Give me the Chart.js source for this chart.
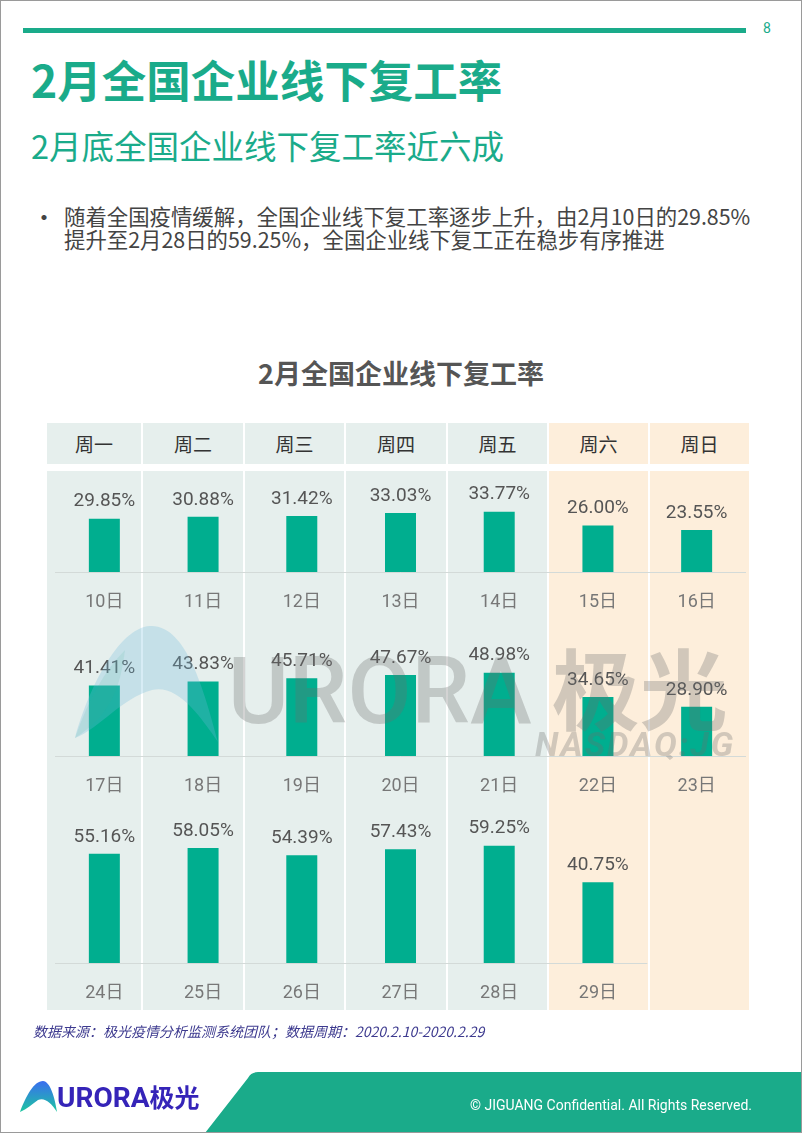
<!DOCTYPE html>
<html>
<head>
<meta charset="utf-8">
<script src="https://cdn.jsdelivr.net/npm/chart.js@4.4.0/dist/chart.umd.min.js"></script>
<style>
  body { margin: 0; background: #fff; }
  #page { position: relative; width: 802px; height: 1133px; overflow: hidden; background: #fff;
          font-family: "Noto Sans CJK SC", "Noto Sans", sans-serif; }
  .abs { position: absolute; white-space: nowrap; }
  .cell { position: absolute; }
  canvas { position: absolute; }
</style>
</head>
<body>
<div id="page">
  <div class="abs" style="left:23px;top:28px;width:723px;height:5px;background:#1aab8a;"></div>
  <div class="abs" style="left:763px;top:20px;font:14px Roboto;color:#1aab8a;">8</div>

  <div class="abs" style="left:31px;top:52px;font-size:44.5px;font-weight:bold;color:#1aab8a;line-height:54px;">2月全国企业线下复工率</div>
  <div class="abs" style="left:31px;top:125px;font-size:32.5px;color:#1aab8a;line-height:40px;">2月底全国企业线下复工率近六成</div>

  <div class="abs" style="left:32px;top:203px;font-size:24px;color:#444;line-height:26px;">•</div>
  <div class="abs" style="left:64px;top:204px;font-size:21.4px;color:#444;line-height:23px;">随着全国疫情缓解，全国企业线下复工率逐步上升，由2月10日的29.85%<br>提升至2月28日的59.25%，全国企业线下复工正在稳步有序推进</div>

  <div class="abs" style="left:0;width:802px;top:356px;text-align:center;font-size:27px;font-weight:bold;color:#555;line-height:34px;">2月全国企业线下复工率</div>

  <div id="grid"></div>

  <canvas id="week1" width="707" height="149" style="left:47px;top:471px;"></canvas>
  <canvas id="week2" width="707" height="184" style="left:47px;top:620px;"></canvas>
  <canvas id="week3" width="707" height="205" style="left:47px;top:806px;"></canvas>

  <!-- watermark -->
  <svg class="abs" style="left:0;top:0;" width="802" height="1133">
    <path d="M75,738 C88,690 118,628 150,626 C186,624 204,690 218,742 C200,716 178,684 152,690 C122,698 100,728 75,738 Z" fill="rgba(110,185,220,0.28)"/>
    <path d="M75,738 C88,700 105,670 125,650 C120,690 110,715 75,738 Z" fill="rgba(60,170,150,0.12)"/>
  </svg>
  <div class="abs" style="left:228px;top:630px;font:500 93px Roboto;color:rgba(110,110,110,0.30);line-height:110px;">URORA<span style="font-family:'Noto Sans CJK SC';font-weight:bold;font-size:88px;"> 极光</span></div>
  <div class="abs" style="left:535px;top:724px;font:italic bold 34px Roboto;color:rgba(110,110,110,0.30);letter-spacing:2px;line-height:40px;">NASDAQ:JG</div>

  <div class="abs" style="left:33px;top:1020px;font-size:14px;font-style:italic;color:#3d3a8f;line-height:22px;">数据来源：极光疫情分析监测系统团队；数据周期：2020.2.10-2020.2.29</div>

  <!-- footer -->
  <svg class="abs" style="left:0;top:0;" width="802" height="1133">
    <defs>
      <linearGradient id="lg" x1="0" y1="0" x2="0" y2="1">
        <stop offset="0" stop-color="#3a6df0"/>
        <stop offset="1" stop-color="#1cc6a0"/>
      </linearGradient>
    </defs>
    <path d="M258,1072 L802,1072 L802,1133 L205,1133 L248,1078 Q251,1072 258,1072 Z" fill="#1aab8a"/>
    <path d="M20,1112 C26,1096 34,1081 43,1081 C50,1081 55,1098 57,1112 C51,1102 44,1097 38,1100 C32,1104 27,1109 20,1112 Z" fill="url(#lg)"/>
  </svg>
  <div class="abs" style="left:57px;top:1080px;font:bold 28px Roboto;color:#3524b8;line-height:32px;">URORA<span style="font-family:'Noto Sans CJK SC';font-size:25px;">极光</span></div>
  <div class="abs" style="left:470px;top:1095px;font:14px Roboto;color:#fff;line-height:20px;">© JIGUANG Confidential. All Rights Reserved.</div>

  <div class="abs" style="left:0;top:0;width:800px;height:1131px;border:1px solid #9a9a9a;"></div>
</div>

<script>
const dayNames = ['周一', '周二', '周三', '周四', '周五', '周六', '周日'];
const week1Days = ['10日', '11日', '12日', '13日', '14日', '15日', '16日'];
const week1Rates = [29.85, 30.88, 31.42, 33.03, 33.77, 26.00, 23.55];
const week2Days = ['17日', '18日', '19日', '20日', '21日', '22日', '23日'];
const week2Rates = [41.41, 43.83, 45.71, 47.67, 48.98, 34.65, 28.90];
const week3Days = ['24日', '25日', '26日', '27日', '28日', '29日', ''];
const week3Rates = [55.16, 58.05, 54.39, 57.43, 59.25, 40.75, null];

// calendar cells behind the charts
const colEdges = [47, 143, 245, 346, 448, 549, 650, 751];
const grid = document.getElementById('grid');
dayNames.forEach(function(name, i) {
    const weekend = i >= 5;
    const bg = weekend ? '#fdeedb' : '#e6efed';
    const w = colEdges[i + 1] - colEdges[i] - 2;
    const head = document.createElement('div');
    head.className = 'cell';
    head.style.cssText = 'left:' + colEdges[i] + 'px;top:423px;width:' + w + 'px;height:41px;background:' + bg +
        ';font-size:19px;color:#333;text-align:center;line-height:41px;';
    head.textContent = name;
    grid.appendChild(head);
    const body = document.createElement('div');
    body.className = 'cell';
    body.style.cssText = 'left:' + colEdges[i] + 'px;top:471px;width:' + w + 'px;height:539px;background:' + bg + ';';
    grid.appendChild(body);
});

const barLabels = {
    id: 'barLabels',
    afterDatasetsDraw(chart) {
        const ctx = chart.ctx;
        const data = chart.data.datasets[0].data;
        ctx.save();
        ctx.font = '19px Roboto';
        ctx.fillStyle = '#555';
        ctx.textAlign = 'center';
        ctx.textBaseline = 'middle';
        chart.getDatasetMeta(0).data.forEach(function(bar, i) {
            if (data[i] == null) return;
            ctx.fillText(data[i].toFixed(2) + '%', bar.x, bar.y - 17);
        });
        ctx.restore();
    }
};

// thin base line, stops after the last day that has data
const baseLine = {
    id: 'baseLine',
    beforeDatasetsDraw(chart) {
        const x = chart.scales.x;
        const area = chart.chartArea;
        const data = chart.data.datasets[0].data;
        let last = data.length - 1;
        while (last > 0 && data[last] == null) last--;
        const half = (x.getPixelForValue(1) - x.getPixelForValue(0)) / 2;
        const right = last === data.length - 1 ? area.right : x.getPixelForValue(last) + half;
        const ctx = chart.ctx;
        ctx.save();
        ctx.strokeStyle = '#d3dad8';
        ctx.lineWidth = 1;
        ctx.beginPath();
        ctx.moveTo(area.left, Math.round(area.bottom) + 0.5);
        ctx.lineTo(right, Math.round(area.bottom) + 0.5);
        ctx.stroke();
        ctx.restore();
    }
};

function renderWeek(id, labels, rates, yMax) {
    new Chart(document.getElementById(id), {
        type: 'bar',
        data: {
            labels: labels,
            datasets: [{
                data: rates,
                backgroundColor: '#00ae8f',
                barPercentage: 0.314,
                categoryPercentage: 1
            }]
        },
        options: {
            responsive: false,
            animation: false,
            layout: { padding: { left: 8, right: 8, top: 0, bottom: 0 } },
            plugins: { legend: { display: false }, tooltip: { enabled: false } },
            scales: {
                x: {
                    grid: { display: false, drawTicks: false },
                    border: { display: false },
                    ticks: { color: '#777', font: { size: 18, family: 'Roboto, "Noto Sans CJK SC"' }, padding: 20, maxRotation: 0, autoSkip: false },
                    afterFit: function(s) { s.height = 48; }
                },
                y: { display: false, min: 0, max: yMax }
            }
        },
        plugins: [baseLine, barLabels]
    });
}

renderWeek('week1', week1Days, week1Rates, 56.55);
renderWeek('week2', week2Days, week2Rates, 80);
renderWeek('week3', week3Days, week3Rates, 79.3);
</script>
</body>
</html>
